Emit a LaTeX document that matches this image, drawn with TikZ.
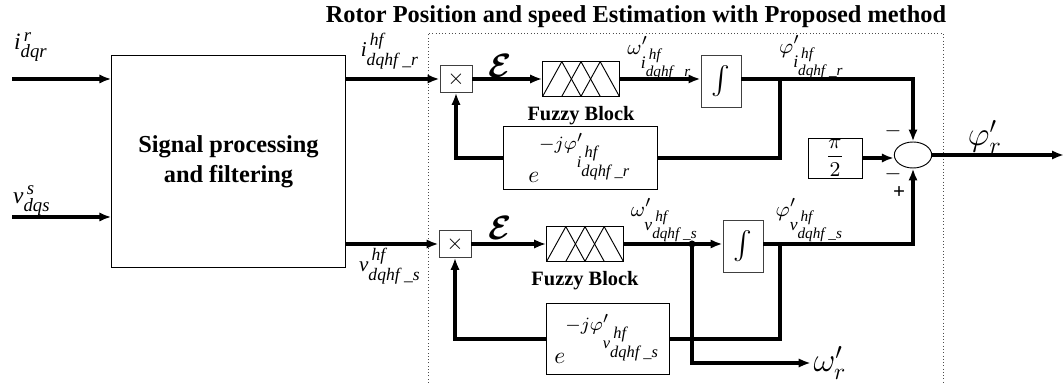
\documentclass[tikz,border=0pt]{standalone}
\usepackage{amsmath, amssymb}
\usepackage{fontspec}
\setmainfont{Liberation Serif}
\usetikzlibrary{positioning,arrows.meta,calc,shapes.geometric}
\DeclareMathSizes{9}{9}{7.5}{6.5}
\DeclareMathSizes{10}{10}{8}{7}
\newcommand{\vsig}[3]{\textit{#1}^{\,\textit{#2}}_{\textit{#3}}}
\tikzset{
  sigline/.style={line width=1.3pt},
  sigarrow/.style={-{Latex[length=1.8mm, width=1.4mm]}, line width=1.3pt},
  frameline/.style={densely dotted, black!70, thin},
  procbox/.style={draw, thin, minimum width=3.5cm, minimum height=3.17cm, align=center, font=\bfseries\fontsize{10.4}{13}\selectfont},
  mulbox/.style={draw=black!75, thin, minimum width=0.48cm, minimum height=0.4cm, inner sep=0pt},
  fuzzybox/.style={draw, thin, minimum width=1.15cm, minimum height=0.52cm, path picture={
      \foreach \p in {0,0.25,0.5}
        \draw ($(path picture bounding box.south west)!\p!(path picture bounding box.south east)$)
          -- ($(path picture bounding box.north west)!\p+0.25!(path picture bounding box.north east)$)
          -- ($(path picture bounding box.south west)!\p+0.5!(path picture bounding box.south east)$);
    }},
  intbox/.style={draw=black!75, thin, minimum width=0.6cm, minimum height=0.78cm, inner sep=0pt, font=\large},
  expbox/.style={draw, thin, font=\fontsize{10}{12}\selectfont},
  sumnode/.style={draw, thin, ellipse, minimum width=0.56cm, minimum height=0.39cm, inner sep=0pt},
  siglabel/.style={font=\fontsize{9}{11}\selectfont, inner sep=0pt},
  boldlabel/.style={font=\bfseries\fontsize{8.7}{10}\selectfont, inner sep=0pt},
  titletext/.style={font=\bfseries\fontsize{10.4}{13}\selectfont, inner sep=0pt},
  biglabel/.style={font=\Large, inner sep=1pt}
}
\begin{document}
\begin{tikzpicture}[x=0.015cm, y=-0.015cm, >=Latex, every node/.style={font=\small}]
  \useasboundingbox (0,0) rectangle (1064,383);
  \node[titletext] (title) at (636,17) {Rotor Position and speed Estimation with Proposed method};
  \draw[frameline] (428,383) |- (943,33) -- (943,383);
  \node[procbox] (proc) at (228.5,161.5) {Signal processing\\and filtering};
  \coordinate (inR) at (12,79);
  \coordinate (inS) at (12,217);
  \node[siglabel, font=\fontsize{10}{12}\selectfont] (lblIr) at (31,47) {$\vsig{i}{r}{dqr}$};
  \node[siglabel, font=\fontsize{10}{12}\selectfont] (lblVs) at (32,201) {$\vsig{v}{s}{dqs}$};
  \node[mulbox] (mulR) at (456,79) {$\times$};
  \node[mulbox] (mulS) at (455,244) {$\times$};
  \node[fuzzybox] (fuzR) at (581,79) {};
  \node[fuzzybox] (fuzS) at (585,244) {};
  \node[boldlabel, below=4pt of fuzR] (fuzTxtR) {Fuzzy Block};
  \node[boldlabel, below=4pt of fuzS] (fuzTxtS) {Fuzzy Block};
  \node[intbox] (intR) at (721,81) {$\int$};
  \node[intbox] (intS) at (743,246) {$\int$};
  \node[expbox, minimum width=2.3cm, minimum height=0.8cm] (expR) at (580.5,158) {$e^{-j\varphi'_{\vsig{i}{hf}{dqhf \_r}}}$};
  \node[expbox, minimum width=1.83cm, minimum height=1.07cm] (expS) at (608,339) {$e^{-j\varphi'_{\vsig{v}{hf}{dqhf \_s}}}$};
  \node[sumnode] (sum) at (913,155) {};
  \node[draw, thin, minimum width=0.81cm, minimum height=0.6cm, inner sep=0pt] (halfpi) at (835,158) {$\dfrac{\pi}{2}$};
  \node[siglabel] (lblIhf) at (390,51) {$\vsig{i}{hf}{dqhf \_r}$};
  \node[siglabel] (lblVhf) at (390,266) {$\vsig{v}{hf}{dqhf \_s}$};
  \node[biglabel] (epsR) at (500,66) {$\boldsymbol{\mathcal{E}}$};
  \node[biglabel] (epsS) at (500,228) {$\boldsymbol{\mathcal{E}}$};
  \node[siglabel] (lblOmR) at (660,58) {$\omega'_{\vsig{i}{hf}{dqhf \_r}}$};
  \node[siglabel] (lblPhR) at (812,57) {$\varphi'_{\vsig{i}{hf}{dqhf \_r}}$};
  \node[siglabel] (lblOmS) at (665,220) {$\omega'_{\vsig{v}{hf}{dqhf \_s}}$};
  \node[siglabel] (lblPhS) at (810,220) {$\varphi'_{\vsig{v}{hf}{dqhf \_s}}$};
  \node[biglabel] (phiOut) at (985,137) {$\varphi'_r$};
  \node[biglabel] (omegaOut) at (830,363) {$\omega'_r$};
  \node[siglabel] (signA) at (893,131) {$-$};
  \node[siglabel] (signB) at (893,174) {$-$};
  \node[siglabel] (signC) at (899,193) {\textbf{+}};
  \coordinate (outPhi) at (1064,155);
  \coordinate (brR) at (780,79);
  \coordinate (brS) at (780,244);
  \coordinate (dotS) at (692,244);
  \draw[sigarrow] (inR) -- (inR -| proc.west);
  \draw[sigarrow] (inS) -- (inS -| proc.west);
  \draw[sigarrow] (proc.east |- mulR) -- (mulR);
  \draw[sigarrow] (proc.east |- mulS) -- (mulS);
  \draw[sigarrow] (mulR) -- (fuzR);
  \draw[sigarrow] (fuzR) -- (fuzR -| intR.west);
  \draw[sigarrow] (intR.east |- brR) -| (sum.north);
  \draw[sigline] (brR) |- (expR.east);
  \draw[sigarrow] (expR.west) -| (mulR.south);
  \draw[sigarrow] (halfpi.east) -- (halfpi.east -| sum.west);
  \draw[sigarrow] (sum) -- (outPhi);
  \draw[sigarrow] (mulS) -- (fuzS);
  \draw[sigarrow] (fuzS) -- (fuzS -| intS.west);
  \draw[sigarrow] (intS.east |- brS) -| (sum.south);
  \draw[sigline] (brS) |- (expS.east);
  \draw[sigarrow] (expS.west) -| (mulS.south);
  \fill (dotS) circle (1.5pt);
  \draw[sigarrow] (dotS) |- (omegaOut.west);
\end{tikzpicture}
\end{document}
